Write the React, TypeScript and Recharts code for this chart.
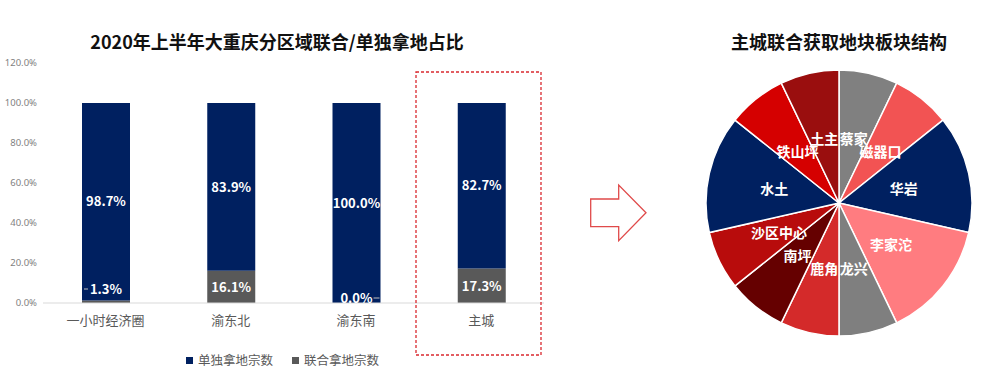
import React from 'react';
import { BarChart, Bar, XAxis, YAxis, LabelList, PieChart, Pie, Cell } from 'recharts';

// left chart: share of single vs joint land acquisitions (percent)
const regions = ['一小时经济圈', '渝东北', '渝东南', '主城'];
const soloShare = [98.7, 83.9, 100.0, 82.7];
const jointShare = [1.3, 16.1, 0.0, 17.3];
const yTicks = [0, 20, 40, 60, 80, 100, 120];
const seriesNames = ['单独拿地宗数', '联合拿地宗数'];
const seriesColors = ['#002060', '#595959'];

// right chart: joint-acquired plots in the main city, by block
const blocks = ['蔡家', '磁器口', '华岩', '李家沱', '龙兴', '鹿角', '南坪', '沙区中心', '水土', '铁山坪', '土主'];
const blockCounts = [1, 1, 2, 2, 1, 1, 1, 1, 2, 1, 1];
const blockColors = [
  '#808080', '#F25353', '#002060', '#FF7C80', '#7F7F7F', '#D42A2A',
  '#650000', '#B80C0C', '#002060', '#D50000', '#9A0E0E',
];

const FONT = '"Noto Sans CJK SC", "Noto Sans", sans-serif';
const RAD = Math.PI / 180;

const barData = regions.map((name, i) => ({
  name,
  solo: soloShare[i],
  joint: jointShare[i],
}));

const pieData = blocks.map((name, i) => ({ name, value: blockCounts[i] }));

const pct = (v: number) => `${Number(v).toFixed(1)}%`;

// joint share label, drawn off the solo segment so a 0% stack still gets one
const JointLabel = (props: any) => {
  const x = Number(props.x);
  const y = Number(props.y);
  const width = Number(props.width);
  const height = Number(props.height) || 0;
  const idx = Number(props.index);
  const value = jointShare[idx];
  const perUnit = height / soloShare[idx];
  const cx = x + width / 2;
  const top = y + height;
  const bottom = top + value * perUnit;
  const ty = value === 0 ? bottom - 6 : Math.min((top + bottom) / 2, bottom - 15);
  let leader = null;
  if (value === 0) {
    leader = <line x1={cx + 17} x2={cx + 23} y1={ty + 1} y2={ty + 1} stroke="#bfbfbf" strokeWidth={1} />;
  } else if (value < 5) {
    leader = <line x1={cx - 22} x2={cx - 18} y1={ty + 1} y2={ty + 1} stroke="#bfbfbf" strokeWidth={1} />;
  }
  return (
    <g>
      {leader}
      <text
        x={cx}
        y={ty}
        fill="#fff"
        fontSize={13}
        fontWeight={700}
        fontFamily={FONT}
        textAnchor="middle"
        dominantBaseline="central"
      >
        {pct(value)}
      </text>
    </g>
  );
};

const renderPieLabel = (props: any) => {
  const { cx, cy, midAngle, outerRadius, name } = props;
  const r = outerRadius * 0.5;
  const x = cx + r * Math.cos(-midAngle * RAD);
  const y = cy + r * Math.sin(-midAngle * RAD);
  return (
    <text
      x={x}
      y={y}
      fill="#fff"
      fontSize={14}
      fontWeight={700}
      fontFamily={FONT}
      textAnchor="middle"
      dominantBaseline="central"
    >
      {name}
    </text>
  );
};

const titleStyle: React.CSSProperties = {
  position: 'absolute',
  top: 29,
  width: 400,
  textAlign: 'center',
  fontFamily: FONT,
  fontWeight: 700,
  fontSize: 18,
  lineHeight: '24px',
  color: '#111',
  whiteSpace: 'nowrap',
};

const App: React.FC = () => {
  return (
    <div
      style={{
        position: 'absolute',
        left: 0,
        top: 0,
        width: 1000,
        height: 381,
        background: '#fff',
        overflow: 'hidden',
        fontFamily: FONT,
      }}
    >
      <div style={{ ...titleStyle, left: 77 }}>2020年上半年大重庆分区域联合/单独拿地占比</div>
      <div style={{ ...titleStyle, left: 639 }}>主城联合获取地块板块结构</div>

      <div style={{ position: 'absolute', left: 0, top: 0 }}>
        <BarChart
          width={560}
          height={381}
          data={barData}
          margin={{ top: 63, right: 16, left: 0, bottom: 48 }}
          barSize={48}
        >
          <XAxis
            dataKey="name"
            height={30}
            axisLine={{ stroke: '#d9d9d9' }}
            tickLine={false}
            tickMargin={7}
            tick={{ fontSize: 13, fill: '#595959', fontFamily: FONT }}
          />
          <YAxis
            width={43}
            domain={[0, 120]}
            ticks={yTicks}
            axisLine={false}
            tickLine={false}
            tickSize={4}
            tickMargin={2}
            tickFormatter={pct}
            tick={{ fontSize: 9.5, fill: '#7f7f7f', fontFamily: '"Noto Sans", sans-serif' }}
          />
          <Bar dataKey="joint" name={seriesNames[1]} stackId="s" fill={seriesColors[1]} isAnimationActive={false} />
          <Bar dataKey="solo" name={seriesNames[0]} stackId="s" fill={seriesColors[0]} isAnimationActive={false}>
            <LabelList
              dataKey="solo"
              position="center"
              formatter={pct}
              fill="#fff"
              fontSize={13}
              fontWeight={700}
              fontFamily={FONT}
            />
            <LabelList dataKey="joint" content={JointLabel} />
          </Bar>
        </BarChart>
      </div>

      {/* legend */}
      <div
        style={{
          position: 'absolute',
          left: 186,
          top: 351,
          display: 'flex',
          alignItems: 'center',
          fontSize: 12.5,
          color: '#595959',
          lineHeight: '18px',
        }}
      >
        {seriesNames.map((n, i) => (
          <div key={n} style={{ display: 'flex', alignItems: 'center', marginRight: 19 }}>
            <span style={{ width: 7, height: 7, background: seriesColors[i], marginRight: 5, display: 'inline-block' }} />
            <span>{n}</span>
          </div>
        ))}
      </div>

      <div style={{ position: 'absolute', left: 560, top: 0 }}>
        <PieChart width={440} height={381} margin={{ top: 0, right: 0, bottom: 0, left: 0 }}>
          <Pie
            data={pieData}
            dataKey="value"
            nameKey="name"
            cx={279}
            cy={203}
            outerRadius={133}
            startAngle={90}
            endAngle={-270}
            stroke="#fff"
            strokeWidth={1.5}
            label={renderPieLabel}
            labelLine={false}
            isAnimationActive={false}
          >
            {pieData.map((d, i) => (
              <Cell key={d.name} fill={blockColors[i]} />
            ))}
          </Pie>
        </PieChart>
      </div>

      {/* decorations: highlight box and arrow */}
      <svg width={1000} height={381} style={{ position: 'absolute', left: 0, top: 0, pointerEvents: 'none' }}>
        <rect x={416} y={72} width={125} height={283} fill="none" stroke="#D9282F" strokeWidth={1.3} strokeDasharray="3 2" />
        <polygon
          points="590.7,199 618.7,199 618.7,185 646,212.7 618.7,240.7 618.7,226.7 590.7,226.7"
          fill="#fff"
          stroke="#E04A4A"
          strokeWidth={1.3}
        />
      </svg>
    </div>
  );
};

export default App;
